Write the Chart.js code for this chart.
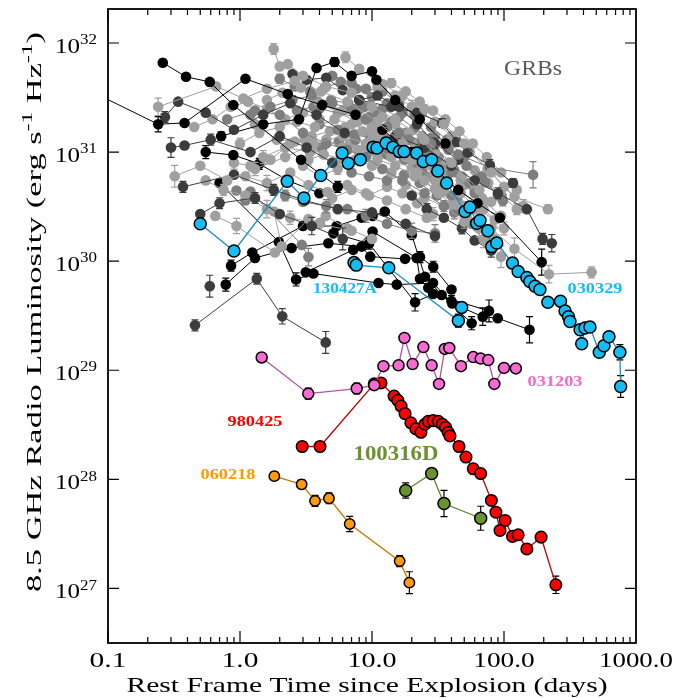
<!DOCTYPE html>
<html>
<head>
<meta charset="utf-8">
<script src="https://cdn.jsdelivr.net/npm/chart.js@4.4.1/dist/chart.umd.min.js"></script>
<style>
  html, body { margin: 0; padding: 0; background: #fff; }
  canvas { display: block; }
</style>
</head>
<body>
<canvas id="chart" width="691" height="698"></canvas>
<script>
// each point: [rest-frame time (days), 8.5 GHz luminosity (erg/s/Hz), error (dex)]

// ---- highlighted events
const grb030329 = [
  [0.50, 2.2e30, 0], [0.90, 1.24e30, 0], [2.28, 5.4e30, 0], [3.05, 3.8e30, 0],
  [4.09, 6.1e30, 0], [5.93, 9.8e30, 0], [6.61, 7.9e30, 0], [8.15, 8.5e30, 0],
  [10.2, 1.11e31, 0], [10.9, 1.09e31, 0], [12.8, 1.21e31, 0], [14.4, 1.11e31, 0],
  [16.1, 1.01e31, 0], [17.5, 1.01e31, 0], [21.8, 9.8e30, 0], [24.5, 8.2e30, 0],
  [28.3, 8.5e30, 0], [31.5, 6.7e30, 0], [36.8, 5.2e30, 0], [50.7, 2.85e30, 0],
  [55.2, 3.13e30, 0], [62.1, 2.23e30, 0], [65.8, 2.36e30, 0], [75.3, 1.9e30, 0],
  [80.7, 1.36e30, 0], [88.1, 1.47e30, 0], [116, 9.6e29, 0], [128, 8.05e29, 0],
  [149, 7.1e29, 0], [157, 6.5e29, 0], [172, 5.9e29, 0], [187, 5.5e29, 0],
  [215, 4.2e29, 0], [268, 4.3e29, 0], [290, 3.5e29, 0], [308, 3.1e29, 0],
  [316, 2.8e29, 0], [377, 2.35e29, 0], [388, 1.75e29, 0.02], [411, 2.44e29, 0],
  [448, 2.49e29, 0], [527, 1.46e29, 0.02], [572, 1.68e29, 0], [624, 2.03e29, 0.04],
  [755, 1.46e29, 0.07], [765, 7.1e28, 0.1]
];
const grb130427A = [
  [7.31, 9.7e29, 0], [7.6, 9.2e29, 0], [13.4, 8.7e29, 0], [45.1, 2.85e29, 0.06], [47.8, 3.77e29, 0]
];
const grb031203 = [
  [1.46, 1.31e29, 0.03], [3.29, 6.1e28, 0.05], [7.66, 6.8e28, 0.05], [10.4, 7.3e28, 0.04],
  [12.2, 1.09e29, 0], [15.9, 1.11e29, 0], [17.6, 1.98e29, 0], [20.3, 1.14e29, 0],
  [24.5, 1.63e29, 0], [28.3, 1.11e29, 0], [32.2, 7.5e28, 0.03], [35.6, 1.57e29, 0],
  [38.5, 1.6e29, 0], [47.2, 1.09e29, 0], [58.5, 1.32e29, 0], [66.6, 1.28e29, 0],
  [76.0, 1.24e29, 0], [84.5, 7.5e28, 0.03], [100, 1.05e29, 0], [123, 1.04e29, 0]
];
const grb980425 = [
  [2.96, 2.0e28, 0], [4.04, 2.0e28, 0], [10.4, 7.5e28, 0], [11.7, 7.65e28, 0],
  [14.7, 5.8e28, 0], [15.7, 5.3e28, 0], [16.6, 4.7e28, 0], [17.8, 4.0e28, 0],
  [19.7, 3.3e28, 0], [21.5, 2.9e28, 0], [23.5, 2.7e28, 0], [25.2, 3.2e28, 0],
  [26.7, 3.4e28, 0], [29.1, 3.45e28, 0], [31.8, 3.4e28, 0], [34.1, 3.2e28, 0],
  [36.1, 3.0e28, 0], [37.8, 2.7e28, 0], [39.0, 2.5e28, 0], [45.6, 2.0e28, 0],
  [51.5, 1.6e28, 0], [58.5, 1.25e28, 0], [66.6, 1.13e28, 0], [80.2, 6.4e27, 0],
  [86.9, 5.0e27, 0], [93.3, 3.4e27, 0], [102, 4.2e27, 0], [116, 3.0e27, 0],
  [128, 3.1e27, 0], [149, 2.3e27, 0.03], [191, 2.95e27, 0], [247, 1.08e27, 0.08]
];
const grb060218 = [
  [1.82, 1.07e28, 0.04], [2.93, 9.0e27, 0.04], [3.70, 6.35e27, 0.05], [4.72, 6.7e27, 0.05],
  [6.78, 3.9e27, 0.07], [16.2, 1.78e27, 0.05], [19.2, 1.13e27, 0.1]
];
const grb100316D = [
  [18.0, 7.9e27, 0.07], [28.3, 1.13e28, 0.03], [35.1, 6.0e27, 0.12], [66.6, 4.4e27, 0.11]
];

// ---- the GRB sample (grey cloud)
const g01 = [[0.06,4.1e31,0],[0.24,1.8e31,0.07],[0.38,1.85e31,0],[1.1,4.7e31,0],[2.3,3.4e31,0],[4.2,2.7e31,0],[7.5,2.2e31,0]];
const g02 = [[0.26,6.6e31,0.03],[0.39,4.9e31,0],[0.59,4.4e31,0],[0.89,2.7e31,0],[2.9,8.5e30,0],[5.5,4.8e30,0.05]];
const g03 = [[0.24,2.6e31,0.08],[0.66,4.0e31,0],[1.06,3.1e31,0],[1.6,3.8e31,0],[2.6,4.5e31,0],[4.1,3.6e31,0],[6.5,2.9e31,0],[11,1.9e31,0],[17,1.2e31,0],[28,7.5e30,0]];
const g04 = [[0.27,2.1e31,0.05],[0.34,2.9e31,0],[0.55,2.3e31,0],[0.9,1.6e31,0],[1.5,2.2e31,0],[2.4,2.8e31,0],[3.8,2.2e31,0],[6.2,1.5e31,0]];
const g05 = [[0.30,1.1e31,0.09],[0.38,1.15e31,0],[0.6,1.3e31,0.05],[1.2,1.0e31,0],[2.0,1.4e31,0],[3.2,1.1e31,0],[5,8e30,0]];
const g06 = [[0.32,6.0e30,0.1],[0.5,7.5e30,0],[0.8,5.5e30,0],[1.3,7.0e30,0.06],[2.2,9.0e30,0],[3.6,1.2e31,0],[6,1.4e31,0],[9,1.2e31,0],[14,9e30,0],[22,6.5e30,0],[35,4.5e30,0]];
const g07 = [[0.37,4.8e30,0.05],[0.9,6.2e30,0],[1.8,4.5e30,0.05],[3.1,3.6e30,0],[5.5,3.0e30,0],[10,2.8e30,0],[18,2.2e30,0],[30,1.7e30,0]];
const g08 = [[0.72,1.4e31,0.04],[1.5,1.8e31,0],[2.8,2.0e31,0],[3.8,5.9e31,0],[5.2,6.7e31,0.04],[7.0,5.0e31,0],[10,5.5e31,0],[10.8,4.6e31,0],[15,3.0e31,0],[23,2.0e31,0],[36,1.2e31,0]];
const g09 = [[1.8,8.8e31,0.05],[2.0,6.1e31,0],[2.3,6.4e31,0],[3.0,5.0e31,0],[4.5,4.0e31,0],[7,3.5e31,0],[10,2.6e31,0],[15,2.0e31,0],[25,1.3e31,0],[40,8e30,0],[65,4.5e30,0]];
const g10 = [[6.3,7.4e31,0.05],[8,5.8e31,0],[12,4.2e31,0],[17,3.3e31,0.04],[25,2.5e31,0],[35,1.8e31,0],[50,1.2e31,0],[80,6.5e30,0],[120,3.9e30,0],[215,3.0e30,0.04]];
const g11 = [[8,3.0e31,0],[14,2.6e31,0],[22,2.3e31,0],[34,1.85e31,0.04],[44,1.24e31,0.04],[53,9.9e30,0],[78,7.6e30,0.05],[117,5.2e30,0.04]];
const g12 = [[4,2.5e31,0],[9,2.0e31,0],[16,1.5e31,0],[28,1.2e31,0],[45,9.5e30,0],[78,7.2e30,0],[166,6.2e30,0.12]];
const g13 = [[10,1.3e31,0],[18,9e30,0],[30,5.5e30,0],[50,3.2e30,0],[80,2.0e30,0],[120,1.3e30,0.1],[219,7.6e29,0.08],[461,7.9e29,0.05]];
const g14 = [[12,1.6e31,0],[20,1.0e31,0],[30,7e30,0],[45,4.5e30,0],[63,3.4e30,0],[93,2.5e30,0],[193,9.8e29,0.12]];
const g15 = [[15,1.4e31,0],[25,1.1e31,0],[40,7.5e30,0],[60,5.5e30,0],[90,4.2e30,0.05],[149,3.0e30,0],[196,1.6e30,0.05],[230,1.46e30,0.08]];
const g16 = [[1.2,2.2e31,0],[1.7,2.6e31,0],[2.5,3.0e31,0.04],[3.5,3.3e31,0],[5,2.8e31,0],[7,2.5e31,0],[9.5,2.1e31,0],[13,1.7e31,0],[19,1.3e31,0],[27,9.5e30,0],[40,6.5e30,0],[60,4.2e30,0]];
const g17 = [[1.0,1.2e31,0.05],[1.4,1.5e31,0],[2,1.7e31,0],[2.7,1.9e31,0],[3.7,1.7e31,0],[5.2,2.0e31,0],[7,1.8e31,0],[10,1.5e31,0],[14,1.1e31,0],[20,8.5e30,0],[30,6.5e30,0],[45,4.5e30,0.05],[70,3.0e30,0],[100,2.0e30,0.06]];
const g18 = [[0.8,2.0e31,0],[1.3,2.4e31,0],[2.0,2.2e31,0],[3.0,1.5e31,0],[4.5,1.2e31,0],[6.5,1.05e31,0],[9,9e30,0],[12,7e30,0],[17,5.5e30,0],[25,4.2e30,0],[35,3.2e30,0.05]];
const g19 = [[1.5,9e30,0.06],[2.2,1.1e31,0],[3.4,1.0e31,0],[4.5,1.3e31,0],[6,1.1e31,0],[8,9.5e30,0],[11,8.5e30,0],[15,7.5e30,0],[21,6e30,0],[30,4.6e30,0],[43,3.3e30,0],[62,2.3e30,0.08]];
const g20 = [[2.5,5.2e31,0],[3.2,4.6e31,0],[4.5,4.8e31,0],[6,3.7e31,0],[8,3.0e31,0],[11,3.3e31,0],[16,2.6e31,0],[22,1.8e31,0],[30,1.2e31,0.05],[45,8.5e30,0]];
const g21 = [[3,7.5e30,0],[4,6e30,0],[5.5,7e30,0.05],[7.5,8.5e30,0],[10,7.5e30,0],[14,6.5e30,0],[18,5e30,0],[25,3.8e30,0],[35,3.2e30,0],[50,2.3e30,0.06],[70,1.6e30,0.08],[95,1.1e30,0.1]];
const g22 = [[4,1.8e31,0],[5.5,1.6e31,0],[7.5,1.3e31,0],[10,1.2e31,0],[13,1.3e31,0],[17,1.05e31,0],[22,8e30,0],[30,5.6e30,0],[40,4e30,0],[55,3e30,0]];
const g23 = [[6,2.4e31,0],[8,2.0e31,0],[10,1.7e31,0],[12,2.1e31,0],[15,1.8e31,0],[19,1.5e31,0],[24,1.4e31,0],[30,1.0e31,0],[38,8e30,0],[48,6e30,0],[60,4.5e30,0],[80,3.5e30,0]];
const g24 = [[1.1,6e30,0],[1.6,5.2e30,0.07],[2.4,6.5e30,0],[3.3,5e30,0],[4.6,4.3e30,0],[6.5,5e30,0],[9,4.2e30,0],[13,3.6e30,0],[18,3.0e30,0],[26,2.5e30,0]];
const g25 = [[8,2.5e31,0],[11,2.3e31,0],[14,1.9e31,0],[18,1.5e31,0],[24,1.2e31,0],[32,9e30,0],[42,6.8e30,0.05],[55,5.2e30,0]];
const g26 = [[2.2,4.0e30,0.05],[3.0,3.5e30,0],[4.5,3.2e30,0.06],[6.5,3.0e30,0],[9,2.6e30,0.06],[13,2.2e30,0],[20,1.9e30,0.07],[30,1.8e30,0.08]];
const g27 = [[0.5,2.7e30,0],[0.7,3.4e30,0.05],[1.3,3.8e30,0.05],[2.0,2.7e30,0],[3.5,2.1e30,0.08],[6,1.6e30,0.1]];
const g28 = [[0.55,5.5e30,0],[0.75,4.5e30,0.05],[1.1,4.0e30,0],[1.6,3.0e30,0.08],[2.4,2.5e30,0.06],[4,2.2e30,0],[7,1.9e30,0]];
const g29 = [[11,4.0e31,0],[15,3.3e31,0],[20,2.6e31,0.06],[24,2.3e31,0],[30,1.9e31,0],[40,1.4e31,0],[55,1.0e31,0],[75,7.0e30,0],[100,4.8e30,0],[140,3.2e30,0.06]];
const g30 = [[5,5e31,0],[7,4.3e31,0],[9,3.8e31,0],[12,3.6e31,0],[16,2.8e31,0],[21,2.2e31,0],[28,1.7e31,0],[37,1.3e31,0],[50,9e30,0],[68,6e30,0],[90,4e30,0]];
const g31 = [[25,5.5e30,0],[32,4.2e30,0],[40,3.3e30,0],[52,2.6e30,0],[65,2.0e30,0.08],[85,1.6e30,0.1]];
const g32 = [[20,4.0e30,0],[26,3.0e30,0.05],[35,2.5e30,0],[48,2.0e30,0.05],[60,1.55e30,0],[80,1.25e30,0.06]];
const g33 = [[0.55,1.0e31,0.06],[0.89,9.4e30,0],[1.4,7.8e30,0.05],[2.3,5.5e30,0],[4,4.2e30,0]];
const g34 = [[0.65,2.6e30,0],[0.94,2.1e30,0.07],[1.84,1.2e30,0]];
const g35 = [[0.94,4.45e30,0],[1.1,3.6e30,0],[1.2,4.35e30,0],[2.94,1.41e30,0],[3.3,1.09e30,0.08]];
const g36 = [[1.81,2.85e30,0],[2.07,1.37e30,0],[3.3,2.43e30,0],[4.03,2.25e30,0],[4.46,2.6e30,0],[6.5,2.0e30,0],[10,1.6e30,0]];
const g37 = [[1.6,3.0e31,0],[2.1,3.5e31,0],[2.9,3.9e31,0],[3.9,2.9e31,0],[5.5,2.3e31,0.04],[7.8,1.9e31,0],[11,1.6e31,0],[16,1.25e31,0],[23,9.8e30,0],[33,7.5e30,0],[47,5.5e30,0],[68,3.8e30,0]];
const g38 = [[2.7,2.4e31,0],[3.6,2.6e31,0],[4.9,3.0e31,0],[6.6,2.8e31,0],[8.8,2.6e31,0],[12,2.5e31,0],[16,2.1e31,0],[21,1.65e31,0],[28,1.35e31,0],[38,1.05e31,0],[52,7.5e30,0],[72,5.3e30,0],[98,3.6e30,0.05]];
const g39 = [[1.3,1.8e31,0],[1.9,1.3e31,0],[2.6,1.25e31,0],[3.5,1.4e31,0],[4.8,1.55e31,0],[6.3,1.7e31,0],[8.5,1.55e31,0],[11.5,1.35e31,0],[15.5,1.4e31,0],[21,1.2e31,0],[28,9e30,0],[37,6.8e30,0],[50,5e30,0],[70,3.6e30,0],[95,2.6e30,0]];
const g40 = [[3.3,8.5e30,0.05],[4.3,9.5e30,0],[5.8,8.8e30,0],[7.8,1.05e31,0],[10.5,1.0e31,0],[14,1.15e31,0],[19,1.0e31,0],[26,8e30,0],[35,5.8e30,0],[47,4.2e30,0],[63,3.0e30,0],[85,2.4e30,0.06]];
const g41 = [[7,6.5e30,0],[9.5,6.0e30,0],[13,5.5e30,0],[17.5,6.2e30,0],[23,5.2e30,0],[31,4.0e30,0],[42,2.8e30,0.06],[57,2.2e30,0],[75,1.7e30,0.08]];
const g42 = [[14,4.3e31,0.04],[18,3.6e31,0],[23,2.9e31,0],[29,2.4e31,0],[36,2.0e31,0],[46,1.55e31,0],[58,1.2e31,0],[74,9e30,0],[95,6.5e30,0],[125,4.5e30,0]];
const g43 = [[2.0,4.7e31,0.04],[2.6,4.0e31,0],[3.4,3.6e31,0],[4.4,3.9e31,0],[5.8,4.4e31,0],[7.6,3.8e31,0],[10,3.2e31,0],[13,2.8e31,0],[17,2.3e31,0],[22,1.9e31,0]];
const g44 = [[0.45,1.7e31,0],[0.62,2.0e31,0],[0.85,2.6e31,0],[1.15,2.9e31,0],[1.6,2.5e31,0],[2.2,2.0e31,0],[3.0,2.3e31,0],[4.0,2.0e31,0]];
const g45 = [[30,1.4e31,0],[38,1.1e31,0],[48,8.8e30,0],[60,6.8e30,0],[76,5.2e30,0],[96,4.0e30,0],[125,3.0e30,0.05]];
const g46 = [[4.2,1.1e31,0],[5.6,1.25e31,0],[7.3,1.45e31,0],[9.7,1.35e31,0],[13,9.5e30,0],[17.5,8.5e30,0],[24,6.6e30,0],[33,5.0e30,0],[44,3.9e30,0]];
const g47 = [[0.9,8e30,0.06],[1.2,7.5e30,0],[1.7,8.5e30,0],[2.4,1.2e31,0],[3.1,1.3e31,0.05],[4.0,1.1e31,0]];
const g48 = [[6.8,1.2e31,0],[9.2,1.1e31,0],[12,1.0e31,0.05],[16,9.8e30,0],[20,7.2e30,0],[26,6.0e30,0],[34,4.3e30,0],[45,3.5e30,0.06]];
const g49 = [[5,3.8e30,0.06],[7,4.5e30,0],[9.5,4.0e30,0],[13,4.8e30,0],[17,4.2e30,0],[22,3.4e30,0],[29,2.7e30,0.06]];
const k01 = [[0.70,5.2e30,0],[1.97,1.5e30,0],[2.66,6.8e29,0.06],[3.6,7.7e29,0],[11.2,6.3e29,0],[15.4,6.1e29,0],[29,6.3e29,0],[40.6,4.1e29,0],[69,3.1e29,0.08],[89.6,3.0e29,0],[156,2.35e29,0.12]];
const k02 = [[0.78,6.1e29,0.06],[1.3,1.07e30,0],[2.46,1.32e30,0],[4.67,1.46e30,0],[8.35,1.36e30,0],[9.7,1.1e30,0],[17.8,1.05e30,0],[23.1,1.09e30,0.05],[29.1,8.9e29,0.05],[40,5.5e29,0]];
const k03 = [[0.855,9.1e29,0.05],[1.24,1.2e30,0],[3.0,2.1e30,0],[5.4,2.1e30,0],[8.35,2.5e30,0],[10.1,2.6e30,0],[12.5,2.85e30,0],[20,1.74e30,0],[25.2,7.2e29,0],[33.7,4.9e29,0],[56.9,2.7e29,0.06]];
const k04 = [[3.15,7.9e29,0],[7.2,1.27e30,0],[10.1,1.87e30,0],[21.8,1.07e30,0],[23.1,6.9e29,0],[26.7,5.7e29,0],[40,4.3e29,0.05]];
const k05 = [[0.59,5.9e29,0.1]];
const k06 = [[0.456,2.58e29,0.05],[1.34,6.9e29,0.05],[2.09,3.12e29,0.07],[4.46,1.8e29,0.1]];
const k07 = [[5.1,1.8e30,0],[9.5,1.45e30,0.05],[21.2,4.2e29,0.08],[29,5.0e29,0],[77,3.5e29,0.1]];

const cloudSeries = [g01, g02, g03, g04, g05, g06, g07, g08, g09, g10, g11, g12, g13, g14, g15, g16, g17, g18,
  g19, g20, g21, g22, g23, g24, g25, g26, g27, g28, g29, g30, g31, g32, g33, g34, g35, g36,
  g37, g38, g39, g40, g41, g42, g43, g44, g45, g46, g47, g48, g49,
  k01, k02, k03, k04, k05, k06, k07];

// axis ticks
const xMajor = [0.1, 1, 10, 100, 1000];
const xMajorLabels = ['0.1', '1.0', '10.0', '100.0', '1000.0'];
const yExponents = [27, 28, 29, 30, 31, 32];

// ---- styles
const greys = ['#000000', '#3c3c3c', '#7e7e7e', '#a0a0a0'];
const cloudShade = [0, 0, 3, 1, 1, 3, 1, 0, 3, 3, 1, 2, 3, 0, 1, 2, 3, 2,
  3, 1, 3, 2, 3, 3, 2, 2, 1, 3, 3, 2, 3, 1, 0, 3, 2, 3,
  3, 2, 3, 3, 2, 3, 2, 3, 3, 2, 3, 3, 3,
  0, 0, 0, 0, 1, 1, 0];

const named = [
  { data: grb130427A, fill: '#14bdf2', line: '#1a8fc0', r: 6 },
  { data: grb030329, fill: '#14bdf2', line: '#1a8fc0', r: 6 },
  { data: grb031203, fill: '#f66ad2', line: '#b8509c', r: 5.5 },
  { data: grb980425, fill: '#ff0000', line: '#c40000', r: 5.8 },
  { data: grb100316D, fill: '#6b9230', line: '#5f8530', r: 6 },
  { data: grb060218, fill: '#ff9a0a', line: '#c87a00', r: 5.2 }
];

const labels = [
  { text: 'GRBs', x: 533, y: 69, w: 58, font: '22px "Liberation Serif"', color: '#5a5a5a' },
  { text: '030329', x: 595, y: 289, w: 55, font: 'bold 15px "Liberation Serif"', color: '#12bff4' },
  { text: '130427A', x: 345, y: 289, w: 64, font: 'bold 15px "Liberation Serif"', color: '#12bff4' },
  { text: '031203', x: 555, y: 382, w: 55, font: 'bold 15px "Liberation Serif"', color: '#ff66cc' },
  { text: '980425', x: 255, y: 422, w: 55, font: 'bold 15px "Liberation Serif"', color: '#ff0000' },
  { text: '060218', x: 228, y: 475, w: 55, font: 'bold 15px "Liberation Serif"', color: '#ff9900' },
  { text: '100316D', x: 396, y: 454, w: 85, font: 'bold 22px "Liberation Serif"', color: '#6b9230' }
];

const toPoints = (s) => s.map((p) => ({ x: p[0], y: p[1], e: p[2] }));

const datasets = [];
named.forEach((n) => {
  datasets.push({
    data: toPoints(n.data),
    showLine: true,
    borderColor: n.line,
    borderWidth: 1.3,
    pointRadius: n.r,
    pointBackgroundColor: n.fill,
    pointBorderColor: '#000',
    pointBorderWidth: 1.5,
    errColor: '#000'
  });
});
cloudSeries.forEach((s, i) => {
  const c = greys[cloudShade[i]];
  datasets.push({
    data: toPoints(s),
    showLine: true,
    borderColor: c,
    borderWidth: 1,
    pointRadius: 5.3,
    pointBackgroundColor: c,
    pointBorderWidth: 0,
    errColor: c
  });
});

// ---- text helpers (stretched horizontally to match the wide plot font)
function stretchText(ctx, text, cx, cy, width, font, color) {
  ctx.save();
  ctx.font = font;
  ctx.fillStyle = color;
  ctx.textAlign = 'center';
  ctx.textBaseline = 'middle';
  const w = ctx.measureText(text).width;
  ctx.translate(cx, cy);
  ctx.scale(width / w, 1);
  ctx.fillText(text, 0, 0);
  ctx.restore();
}

function richText(ctx, parts, cx, cy, width, size, rot) {
  ctx.save();
  ctx.fillStyle = '#000';
  ctx.textAlign = 'left';
  ctx.textBaseline = 'alphabetic';
  const fontFor = (sup) => (sup ? size * 0.68 : size) + 'px "Liberation Serif"';
  let total = 0;
  const ws = parts.map(([t, sup]) => {
    ctx.font = fontFor(sup);
    const w = ctx.measureText(t).width;
    total += w;
    return w;
  });
  ctx.translate(cx, cy);
  if (rot) ctx.rotate(rot);
  ctx.scale(width / total, 1);
  let x = -total / 2;
  parts.forEach(([t, sup], i) => {
    ctx.font = fontFor(sup);
    ctx.fillText(t, x, sup ? size * 0.38 - size * 0.42 : size * 0.38);
    x += ws[i];
  });
  ctx.restore();
}

// ---- error bars, drawn just under each dataset
const errorBars = {
  id: 'errorBars',
  beforeDatasetDraw(chart, args) {
    const { ctx, chartArea: a, scales: { y } } = chart;
    const ds = chart.data.datasets[args.index];
    ctx.save();
    ctx.beginPath();
    ctx.rect(a.left, a.top, a.right - a.left, a.bottom - a.top);
    ctx.clip();
    ctx.strokeStyle = ds.errColor;
    ctx.lineWidth = 1.2;
    ctx.beginPath();
    args.meta.data.forEach((pt, i) => {
      const d = ds.data[i];
      if (!d.e) return;
      const f = Math.pow(10, d.e);
      const yt = y.getPixelForValue(d.y * f);
      const yb = y.getPixelForValue(d.y / f);
      ctx.moveTo(pt.x, yt); ctx.lineTo(pt.x, yb);
      ctx.moveTo(pt.x - 3.5, yt); ctx.lineTo(pt.x + 3.5, yt);
      ctx.moveTo(pt.x - 3.5, yb); ctx.lineTo(pt.x + 3.5, yb);
    });
    ctx.stroke();
    ctx.restore();
  }
};

// ---- frame, ticks, labels
const frame = {
  id: 'frame',
  afterDraw(chart) {
    const { ctx, chartArea: a, scales: { x, y } } = chart;
    ctx.save();
    ctx.strokeStyle = '#000';
    ctx.lineWidth = 1.2;
    ctx.beginPath();
    xMajor.slice(0, -1).forEach((d) => {
      for (let m = 1; m <= 9; m++) {
        const px = x.getPixelForValue(d * m);
        const len = m === 1 ? 12 : 6;
        ctx.moveTo(px, a.bottom); ctx.lineTo(px, a.bottom - len);
        ctx.moveTo(px, a.top); ctx.lineTo(px, a.top + len);
      }
    });
    yExponents.forEach((e) => {
      const py = y.getPixelForValue(Math.pow(10, e));
      ctx.moveTo(a.left, py); ctx.lineTo(a.left + 11, py);
      ctx.moveTo(a.right, py); ctx.lineTo(a.right - 11, py);
    });
    ctx.stroke();
    ctx.lineWidth = 1.8;
    ctx.strokeRect(a.left, a.top, a.right - a.left, a.bottom - a.top);
    ctx.restore();

    xMajor.forEach((v, i) => {
      const t = xMajorLabels[i];
      stretchText(ctx, t, x.getPixelForValue(v), 661, t.length * 12.3, '21px "Liberation Serif"', '#000');
    });
    yExponents.forEach((e) => {
      richText(ctx, [['10', false], [String(e), true]], 76, y.getPixelForValue(Math.pow(10, e)) + 2, 42, 21);
    });
    stretchText(ctx, 'Rest Frame Time since Explosion (days)', 367, 686, 481, '21px "Liberation Serif"', '#000');
    richText(ctx, [['8.5 GHz Radio Luminosity (erg s', false], ['-1', true], [' Hz', false], ['-1', true], [')', false]],
      33, 312, 560, 21, -Math.PI / 2);

    labels.forEach((l) => stretchText(ctx, l.text, l.x, l.y, l.w, l.font, l.color));
  }
};

new Chart(document.getElementById('chart'), {
  type: 'scatter',
  data: { datasets },
  options: {
    responsive: false,
    devicePixelRatio: 1,
    animation: false,
    layout: { padding: { top: 9, right: 55, bottom: 0, left: 0 } },
    plugins: { legend: { display: false }, tooltip: { enabled: false } },
    scales: {
      x: {
        type: 'logarithmic',
        min: 0.1,
        max: 1000,
        grid: { display: false },
        border: { display: false },
        ticks: { display: false },
        afterFit: (s) => { s.height = 55; }
      },
      y: {
        type: 'logarithmic',
        min: 3.16e26,
        max: 2.05e32,
        grid: { display: false },
        border: { display: false },
        ticks: { display: false },
        afterFit: (s) => { s.width = 108; }
      }
    }
  },
  plugins: [errorBars, frame]
});
</script>
</body>
</html>
